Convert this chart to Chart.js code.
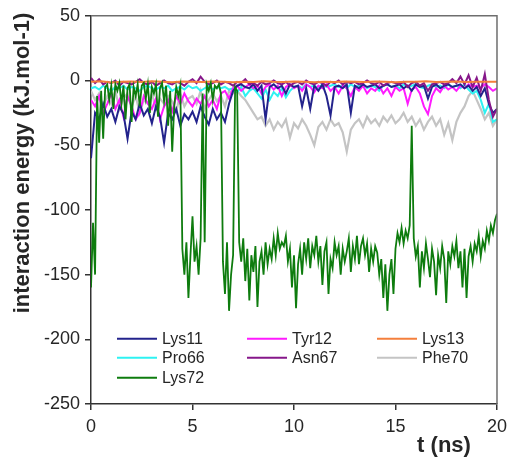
<!DOCTYPE html>
<html>
<head>
<meta charset="utf-8">
<script src="https://cdn.jsdelivr.net/npm/chart.js@4"></script>
<style>
  html, body { margin: 0; padding: 0; background: #fff; }
  #wrap { width: 513px; height: 466px; }
</style>
</head>
<body>
<div id="wrap"><canvas id="c" width="513" height="466"></canvas></div>
<script>
// Interaction energy of each residue over a 20 ns trajectory (kJ/mol)
// Lys72 sampled every 0.1 ns, Lys13 every 0.5 ns, all others every 0.2 ns.

const seriesNames = ['Lys11', 'Tyr12', 'Lys13', 'Pro66', 'Asn67', 'Phe70', 'Lys72'];

const lys11 = [
  -60,-25,-30,-18,-28,  -22,-32,-20,-26,-45,  -24,-30,-18,-27,-22,  -33,-20,-28,-48,-25,
  -30,-22,-35,-26,-30,  -24,-32,-20,-28,-34,  -22,-30,-25,-32,-18,  -8,-4,-3,-5,-6,
  -3,-8,-4,-30,-5,      -3,-6,-4,-10,-3,      -5,-4,-20,-6,-22,     -4,-8,-3,-12,-27,
  -5,-4,-6,-3,-25,      -4,-6,-3,-5,-4,       -3,-6,-4,-3,-5,       -4,-3,-6,-4,-8,
  -3,-5,-4,-14,-5,      -3,-6,-4,-3,-5,       -4,-3,-6,-4,-8,       -5,-12,-6,-18,-25,
  -22
];

const tyr12 = [
  -15,-20,-12,-25,-18,  -10,-22,-15,-28,-12,  -20,-30,-25,-12,-18,  -22,-14,-30,-20,-15,
  -24,-12,-18,-10,-16,  -20,-14,-18,-12,-20,  -15,-22,-10,-8,-14,   -6,-4,-8,-5,-3,
  -6,-4,-10,-5,-3,      -7,-4,-12,-5,-3,      -6,-4,-8,-3,-5,       -9,-4,-6,-3,-8,
  -5,-10,-4,-6,-12,     -5,-8,-4,-10,-6,      -8,-4,-10,-6,-12,     -5,-8,-6,-18,-7,
  -5,-10,-20,-26,-12,   -6,-9,-4,-7,-5,       -8,-4,-6,-3,-5,       -4,-6,-3,-5,-8,
  -6
];

const lys13 = [
  -1,-0.5,-1.5,-1,-0.8,-1.2,-0.6,-1,-1.4,-0.8,
  -1,-1.2,-0.7,-1,-1.3,-0.9,-1.1,-0.6,-1,-1.2,
  -0.8,-1,-1.4,-0.9,-1.1,-0.7,-1,-1.2,-0.8,-1,
  -1.3,-0.9,-1,-0.6,-1.1,-1,-0.8,-1.2,-1,-0.9,
  -1
];

const pro66 = [
  -6,-5,-7,-4,-6,   -8,-5,-6,-4,-7,   -5,-6,-8,-5,-4,   -6,-7,-5,-6,-4,
  -8,-6,-5,-7,-4,   -6,-5,-8,-6,-4,   -7,-5,-6,-5,-7,   -6,-9,-5,-12,-8,
  -6,-10,-14,-7,-15, -9,-12,-6,-13,-8, -5,-4,-6,-3,-5,  -4,-6,-3,-5,-4,
  -3,-5,-4,-6,-3,   -5,-4,-3,-6,-4,   -5,-8,-4,-3,-5,   -4,-6,-3,-5,-4,
  -3,-5,-6,-4,-3,   -5,-4,-6,-3,-5,   -4,-6,-3,-7,-10,  -8,-15,-25,-18,-32,
  -30
];

const asn67 = [
  2,-2,1,-3,-1,    -2,0,-4,-1,-2,   -3,-1,1,-2,-3,   -1,-4,-2,0,-2,
  -3,-1,-2,-4,-1,  1,-2,3,-1,-3,    -2,0,-3,-1,-2,   -4,-1,-2,1,-3,
  -2,-4,-1,-3,-2,  0,-2,-3,-1,-4,   -2,-1,-3,0,-2,   -3,-1,-2,-4,-1,
  -2,0,-3,-1,-2,   -1,-3,-2,0,-2,   -3,-1,-4,-2,-1,  -2,-3,-1,-5,-2,
  -1,-4,-2,-8,-3,  -2,-1,-3,-2,1,   -2,3,-3,4,-5,    2,-8,5,-15,-28,
  -22
];

const phe70 = [
  -8,-15,-10,-20,-12,  -18,-8,-22,-14,-10,  -20,-12,-25,-15,-18,  -10,-22,-14,-18,-12,
  -16,-24,-10,-20,-14, -12,-18,-8,-22,-15,  -10,-16,-12,-20,-8,   -10,-8,-12,-15,-20,
  -25,-30,-28,-35,-30, -38,-32,-36,-30,-44, -33,-37,-30,-35,-42,  -50,-36,-32,-38,-30,
  -35,-33,-40,-55,-38, -33,-30,-36,-28,-33, -30,-35,-28,-32,-27,  -33,-30,-25,-32,-28,
  -35,-30,-38,-32,-28, -35,-30,-42,-33,-46, -32,-25,-20,-12,-8,   -15,-22,-30,-25,-35,
  -30
];

const lys72 = [
  -160,-110,-150,-12,-48,-8,-45,-5,-3,-15,
  -4,-22,-3,-8,-2,-18,-4,-30,-6,-3,
  -32,-5,-12,-3,-20,-4,-2,-14,-3,-25,
  -5,-10,-3,-28,-6,-2,-16,-4,-35,-8,
  -55,-20,-5,-12,-4,-130,-150,-125,-168,-135,
  -105,-140,-128,-150,-122,-10,-125,-3,-8,-2,
  -15,-4,-6,-3,-10,-140,-165,-125,-178,-150,
  -135,-5,-8,-125,-140,-122,-155,-130,-170,-135,
  -148,-128,-175,-140,-132,-150,-125,-142,-130,-138,
  -122,-135,-118,-130,-125,-128,-120,-140,-130,-160,
  -135,-176,-142,-130,-150,-125,-138,-122,-145,-128,
  -135,-120,-140,-128,-158,-132,-125,-165,-138,-145,
  -125,-135,-128,-150,-130,-140,-132,-122,-148,-128,
  -138,-120,-142,-128,-122,-135,-126,-148,-130,-140,
  -128,-133,-150,-138,-168,-142,-178,-150,-138,-165,
  -130,-118,-125,-114,-126,-116,-122,-112,-35,-122,
  -136,-128,-160,-132,-145,-126,-138,-152,-130,-140,
  -166,-135,-145,-128,-138,-172,-132,-142,-128,-136,
  -124,-145,-132,-160,-130,-168,-136,-128,-140,-126,
  -132,-120,-136,-124,-130,-116,-124,-112,-118,-108,
  -103
];

const xTicks = [0, 5, 10, 15, 20];
const yTicks = [50, 0, -50, -100, -150, -200, -250];

// pair each value with its sampling time
function withTime(values, step) {
  return values.map((v, i) => ({ x: +(i * step).toFixed(2), y: v }));
}

const FONT = '"Liberation Sans", Arial, sans-serif';
const TEXT = '#262626';

const datasets = [
  { label: 'Lys11', data: withTime(lys11, 0.2), borderColor: '#23238C', borderWidth: 2, order: 4 },
  { label: 'Tyr12', data: withTime(tyr12, 0.2), borderColor: '#FF1AFF', borderWidth: 2, order: 5 },
  { label: 'Lys13', data: withTime(lys13, 0.5), borderColor: '#F47F3C', borderWidth: 2, order: 1 },
  { label: 'Pro66', data: withTime(pro66, 0.2), borderColor: '#2EF2F2', borderWidth: 2, order: 6 },
  { label: 'Asn67', data: withTime(asn67, 0.2), borderColor: '#86178A', borderWidth: 2, order: 2 },
  { label: 'Phe70', data: withTime(phe70, 0.2), borderColor: '#C4C4C4', borderWidth: 2.2, order: 7 },
  { label: 'Lys72', data: withTime(lys72, 0.1), borderColor: '#0E7C0E', borderWidth: 1.8, order: 0 }
];
datasets.forEach(d => { d.pointRadius = 0; d.fill = false; d.tension = 0; });

// outer frame on the top and right of the plot area
const framePlugin = {
  id: 'frame',
  afterDatasetsDraw(chart) {
    const { ctx, chartArea: a } = chart;
    ctx.save();
    ctx.strokeStyle = '#6e6e6e';
    ctx.lineWidth = 1.5;
    ctx.beginPath();
    ctx.moveTo(a.left, a.top);
    ctx.lineTo(a.right, a.top);
    ctx.lineTo(a.right, a.bottom);
    ctx.stroke();
    ctx.restore();
  }
};

// three-column legend inside the plot area
const legendPlugin = {
  id: 'innerLegend',
  afterDraw(chart) {
    const { ctx, chartArea: a } = chart;
    const cols = [26, 156, 286];
    const rows = [323, 342, 362];
    ctx.save();
    ctx.font = '16px ' + FONT;
    ctx.textBaseline = 'middle';
    ctx.textAlign = 'left';
    chart.data.datasets.forEach((ds, i) => {
      const x = a.left + cols[i % 3];
      const y = a.top + rows[Math.floor(i / 3)];
      ctx.strokeStyle = ds.borderColor;
      ctx.lineWidth = 2;
      ctx.beginPath();
      ctx.moveTo(x, y);
      ctx.lineTo(x + 40, y);
      ctx.stroke();
      ctx.fillStyle = TEXT;
      ctx.fillText(ds.label, x + 45, y + 1);
    });
    ctx.restore();
  }
};

// axis titles
const titlePlugin = {
  id: 'axisTitles',
  afterDraw(chart) {
    const { ctx } = chart;
    ctx.save();
    ctx.fillStyle = TEXT;
    ctx.font = 'bold 22px ' + FONT;
    ctx.textAlign = 'center';
    ctx.textBaseline = 'middle';
    ctx.fillText('t (ns)', 444, 446);
    ctx.translate(23, 163);
    ctx.rotate(-Math.PI / 2);
    ctx.fillText('interaction energy (kJ.mol-1)', 0, 0);
    ctx.restore();
  }
};

new Chart(document.getElementById('c'), {
  type: 'line',
  data: { datasets },
  options: {
    responsive: false,
    animation: false,
    devicePixelRatio: 1,
    layout: { padding: { top: 13, right: 14, left: 0, bottom: 0 } },
    plugins: { legend: { display: false }, tooltip: { enabled: false } },
    scales: {
      x: {
        type: 'linear',
        min: 0, max: 20,
        afterBuildTicks: s => { s.ticks = xTicks.map(v => ({ value: v })); },
        afterFit: s => { s.height = 62; },
        ticks: { color: TEXT, font: { family: FONT, size: 18 }, padding: 6, maxRotation: 0 },
        grid: { display: true, drawOnChartArea: false, tickLength: 6, color: '#333', lineWidth: 1.5 },
        border: { display: true, color: '#333', width: 1.5 }
      },
      y: {
        type: 'linear',
        min: -250, max: 50,
        afterBuildTicks: s => { s.ticks = yTicks.map(v => ({ value: v })); },
        afterFit: s => { s.width = 91; },
        ticks: { color: TEXT, font: { family: FONT, size: 18 }, padding: 5 },
        grid: { display: true, drawOnChartArea: false, tickLength: 6, color: '#333', lineWidth: 1.5 },
        border: { display: true, color: '#333', width: 1.5 }
      }
    }
  },
  plugins: [framePlugin, legendPlugin, titlePlugin]
});
</script>
</body>
</html>
